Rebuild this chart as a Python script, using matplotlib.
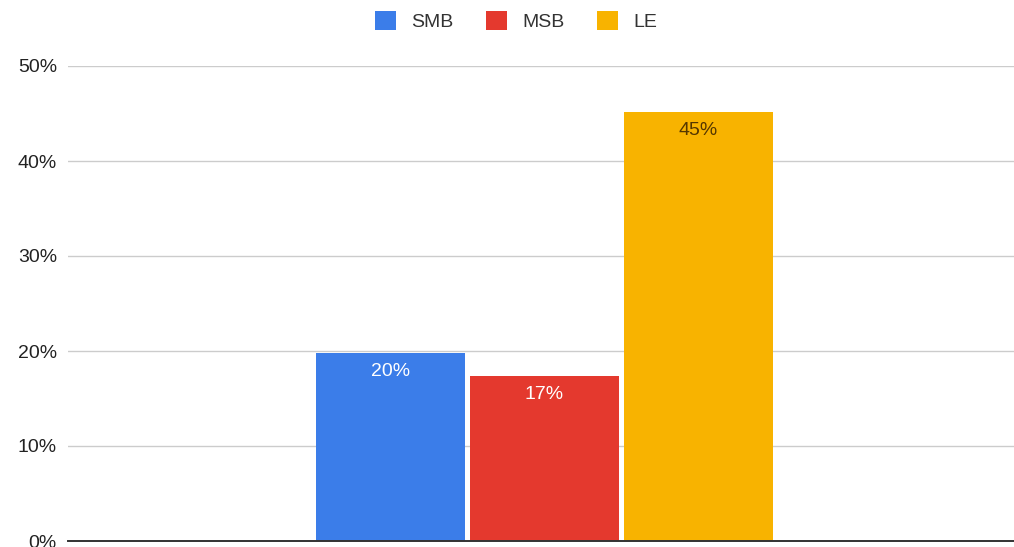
import matplotlib
matplotlib.use("Agg")
import matplotlib.pyplot as plt
from matplotlib.patches import Patch
from matplotlib.ticker import FuncFormatter

plt.rcParams['font.family'] = ['Liberation Sans', 'DejaVu Sans']

# share of respondents per segment
series = ['SMB', 'MSB', 'LE']
values = [0.198, 0.174, 0.452]
colors = ['#3b7de9', '#e4392e', '#f8b300']
label_colors = ['white', 'white', '#553700']
yticks = [0, 0.1, 0.2, 0.3, 0.4, 0.5]

fig = plt.figure(figsize=(10.14, 5.47), dpi=100)
ax = fig.add_axes([68 / 1014, 6 / 547, 953 / 1014, 475 / 547])

pos = [-1, 0, 1]
bars = ax.bar(pos, values, width=0.9675, color=colors, zorder=3)

for b, v, c in zip(bars, values, label_colors):
    ax.annotate('{:.0%}'.format(v), (b.get_x() + b.get_width() / 2, v),
                xytext=(0, -13.5), textcoords='offset points',
                ha='center', va='center', fontsize=14, color=c, zorder=4)

ax.set_xlim(-3.094, 3.094)
ax.set_ylim(0, 0.5)
ax.set_yticks(yticks)
ax.yaxis.set_major_formatter(FuncFormatter(lambda y, _: '{:.0%}'.format(y)))
ax.set_xticks([])
ax.grid(axis='y', color='#cccccc', linewidth=1, zorder=0)
ax.set_axisbelow(True)
for s in ['top', 'right', 'left']:
    ax.spines[s].set_visible(False)
ax.spines['bottom'].set_color('#333333')
ax.spines['bottom'].set_linewidth(1.4)
ax.spines['bottom'].set_zorder(5)
ax.tick_params(axis='y', length=0, pad=8, labelsize=14, labelcolor='#222222')
ax.patch.set_alpha(0)

handles = [Patch(facecolor=c, edgecolor='none') for c in colors]
fig.legend(handles, series, loc='center', bbox_to_anchor=(516 / 1014, 1 - 21 / 547),
           ncol=3, frameon=False, fontsize=14, handlelength=1.08, handleheight=1.08,
           handletextpad=0.8, columnspacing=1.65, labelcolor='#333333')

fig.savefig('out.png', dpi=100)
